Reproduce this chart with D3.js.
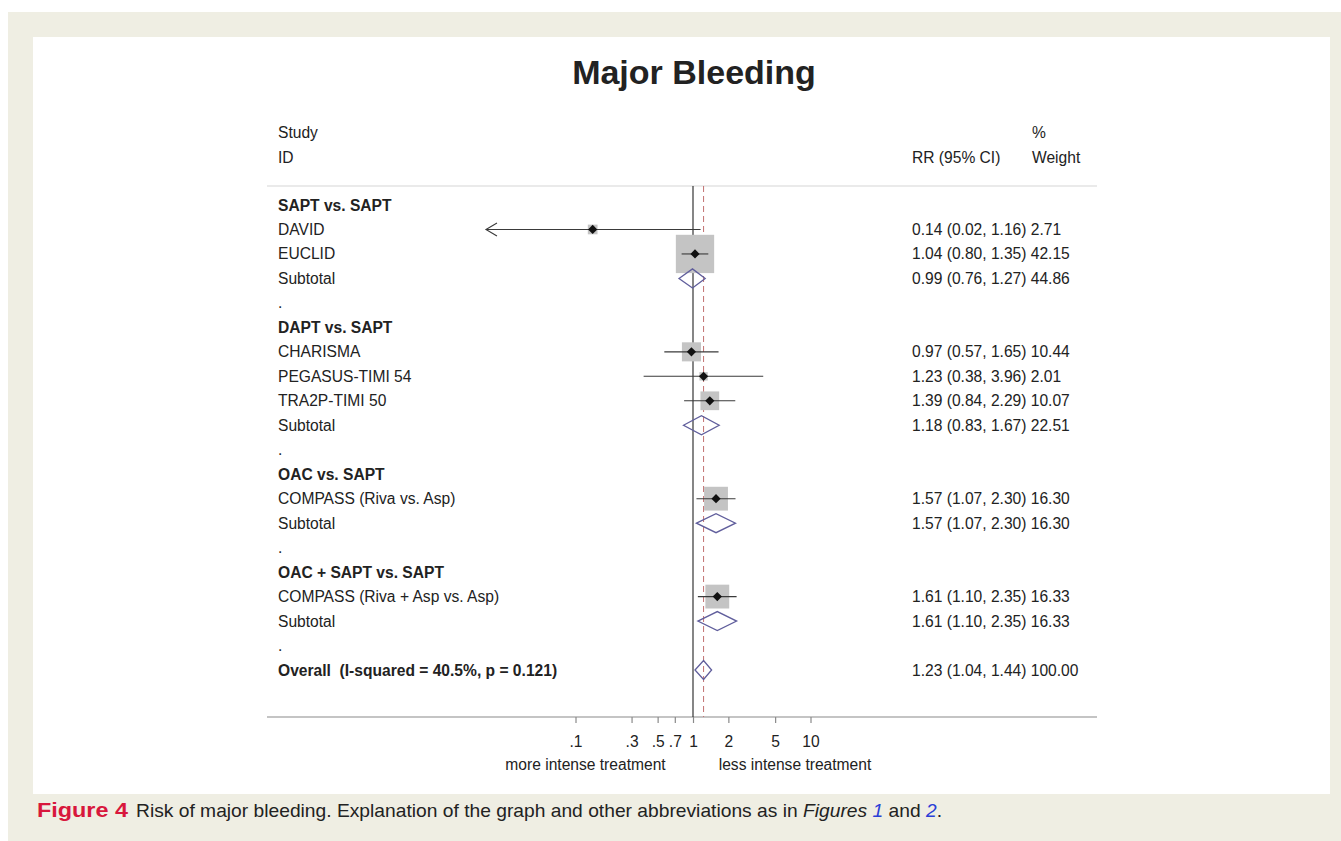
<!DOCTYPE html>
<html>
<head>
<meta charset="utf-8">
<script src="https://cdn.jsdelivr.net/npm/d3@7/dist/d3.min.js"></script>
<style>
  html, body { margin: 0; padding: 0; background: #ffffff; }
  svg { display: block; }
  text { font-family: "Liberation Sans", Arial, Helvetica, sans-serif; }
</style>
</head>
<body>
<svg id="chart" width="1341" height="841"></svg>
<script>
// ---- Data ----
const groupNames = ["SAPT vs. SAPT", "DAPT vs. SAPT", "OAC vs. SAPT", "OAC + SAPT vs. SAPT"];

const studyNames = ["DAVID", "EUCLID", "CHARISMA", "PEGASUS-TIMI 54", "TRA2P-TIMI 50",
                    "COMPASS (Riva vs. Asp)", "COMPASS (Riva + Asp vs. Asp)"];
const studyGroup = [0, 0, 1, 1, 1, 2, 3];
const studyRR    = [0.14, 1.04, 0.97, 1.23, 1.39, 1.57, 1.61];
const studyLow   = [0.02, 0.80, 0.57, 0.38, 0.84, 1.07, 1.10];
const studyHigh  = [1.16, 1.35, 1.65, 3.96, 2.29, 2.30, 2.35];
const studyWeight = [2.71, 42.15, 10.44, 2.01, 10.07, 16.30, 16.33];

const subRR     = [0.99, 1.18, 1.57, 1.61];
const subLow    = [0.76, 0.83, 1.07, 1.10];
const subHigh   = [1.27, 1.67, 2.30, 2.35];
const subWeight = [44.86, 22.51, 16.30, 16.33];

const overallLabel = "Overall  (I-squared = 40.5%, p = 0.121)";
const overallRR = 1.23, overallLow = 1.04, overallHigh = 1.44, overallWeight = 100.00;

const tickValues = [0.1, 0.3, 0.5, 0.7, 1, 2, 5, 10];
const tickLabels = [".1", ".3", ".5", ".7", "1", "2", "5", "10"];

// lower display limit of the effect axis; intervals beyond it end in an arrow
const axisFloor = 0.0173;

// ---- Build the row list ----
const rows = [];
groupNames.forEach((g, gi) => {
  rows.push({ type: "group", label: g });
  studyNames.forEach((s, i) => {
    if (studyGroup[i] === gi) {
      rows.push({ type: "study", label: s, rr: studyRR[i], lo: studyLow[i], hi: studyHigh[i], w: studyWeight[i] });
    }
  });
  rows.push({ type: "subtotal", label: "Subtotal", rr: subRR[gi], lo: subLow[gi], hi: subHigh[gi], w: subWeight[gi] });
  rows.push({ type: "spacer", label: "." });
});
rows.push({ type: "overall", label: overallLabel, rr: overallRR, lo: overallLow, hi: overallHigh, w: overallWeight });

const fmt2 = d3.format(".2f");
const ciText = d => `${fmt2(d.rr)} (${fmt2(d.lo)}, ${fmt2(d.hi)}) ${fmt2(d.w)}`;

// ---- Canvas / background ----
const svg = d3.select("#chart");
svg.append("rect").attr("x", 8).attr("y", 12).attr("width", 1333).attr("height", 829).attr("fill", "#efeee3");
svg.append("rect").attr("x", 33).attr("y", 37).attr("width", 1297).attr("height", 757).attr("fill", "#ffffff");

// ---- Scales ----
const x = d3.scaleLog().domain([0.1, 10]).range([575.5, 810.5]);
const y = d3.scaleLinear().domain([0, rows.length - 1]).range([205, 670]);

const leftEdge = 267, rightEdge = 1097;
const headerLineY = 186, axisY = 717;
const textX = 278, ciX = 912;
const fs = 15.6;

// Title
svg.append("text")
  .attr("x", 694).attr("y", 84)
  .attr("text-anchor", "middle")
  .attr("font-size", 34).attr("font-weight", "bold")
  .attr("fill", "#222")
  .text("Major Bleeding");

// Column headers
const hdr = svg.append("g").attr("font-size", fs).attr("fill", "#222");
hdr.append("text").attr("x", textX).attr("y", 137.5).text("Study");
hdr.append("text").attr("x", textX).attr("y", 162.5).text("ID");
hdr.append("text").attr("x", ciX).attr("y", 162.5).text("RR (95% CI)");
hdr.append("text").attr("x", 1032).attr("y", 137.5).text("%");
hdr.append("text").attr("x", 1032).attr("y", 162.5).text("Weight");

// Header rule and axis rule
svg.append("line").attr("x1", leftEdge).attr("x2", rightEdge).attr("y1", headerLineY).attr("y2", headerLineY)
  .attr("stroke", "#d6d6d6").attr("stroke-width", 1.2);
svg.append("line").attr("x1", leftEdge).attr("x2", rightEdge).attr("y1", axisY).attr("y2", axisY)
  .attr("stroke", "#8a8a8a").attr("stroke-width", 1.2);

// Null line (RR = 1)
svg.append("line").attr("x1", x(1)).attr("x2", x(1)).attr("y1", headerLineY).attr("y2", axisY)
  .attr("stroke", "#222").attr("stroke-width", 1.1);

// Overall estimate line
svg.append("line").attr("x1", x(overallRR)).attr("x2", x(overallRR)).attr("y1", headerLineY).attr("y2", axisY)
  .attr("stroke", "#c27272").attr("stroke-width", 1).attr("stroke-dasharray", "6,4");

// Row labels and CI text
const lab = svg.append("g").attr("font-size", fs).attr("fill", "#222");
rows.forEach((d, i) => {
  const bold = d.type === "group" || d.type === "overall";
  lab.append("text")
    .attr("x", textX).attr("y", y(i) + 5.5)
    .attr("font-weight", bold ? "bold" : "normal")
    .attr("xml:space", "preserve")
    .style("white-space", "pre")
    .text(d.label);
  if (d.rr !== undefined) {
    lab.append("text").attr("x", ciX).attr("y", y(i) + 5.5).text(ciText(d));
  }
});

// Study markers
const marks = svg.append("g");
const boxScale = 5.9;
rows.forEach((d, i) => {
  if (d.type !== "study") return;
  const cy = y(i);
  const side = boxScale * Math.sqrt(d.w);
  marks.append("rect")
    .attr("x", x(d.rr) - side / 2).attr("y", cy - side / 2)
    .attr("width", side).attr("height", side)
    .attr("fill", "#c4c4c4");
  const clipped = d.lo < axisFloor;
  const loX = x(Math.max(d.lo, axisFloor));
  const offLeft = d.lo < 0.05;   // interval extends past the drawn axis
  marks.append("line")
    .attr("x1", offLeft ? x(axisFloor) : loX).attr("x2", x(d.hi)).attr("y1", cy).attr("y2", cy)
    .attr("stroke", "#3a3a3a").attr("stroke-width", 1.1);
  if (offLeft) {
    const ax = x(axisFloor);
    marks.append("path")
      .attr("d", `M${ax + 11},${cy - 6.5}L${ax},${cy}L${ax + 11},${cy + 6.5}`)
      .attr("fill", "none").attr("stroke", "#3a3a3a").attr("stroke-width", 1.1);
  }
  const r = 4.6;
  marks.append("path")
    .attr("d", `M${x(d.rr)},${cy - r}L${x(d.rr) + r},${cy}L${x(d.rr)},${cy + r}L${x(d.rr) - r},${cy}Z`)
    .attr("fill", "#111");
});

// Pooled diamonds
rows.forEach((d, i) => {
  if (d.type !== "subtotal" && d.type !== "overall") return;
  const cy = y(i), h = 9.5;
  marks.append("path")
    .attr("d", `M${x(d.lo)},${cy}L${x(d.rr)},${cy - h}L${x(d.hi)},${cy}L${x(d.rr)},${cy + h}Z`)
    .attr("fill", "none").attr("stroke", "#605e9c").attr("stroke-width", 1.3);
});

// Axis
const axis = d3.axisBottom(x)
  .tickValues(tickValues)
  .tickFormat((v, i) => tickLabels[i])
  .tickSize(6).tickPadding(12.5);
const ag = svg.append("g").attr("transform", `translate(0,${axisY})`).call(axis);
ag.select(".domain").remove();
ag.selectAll(".tick line").attr("stroke", "#8a8a8a").attr("stroke-width", 1.2);
ag.selectAll(".tick text").attr("font-size", fs).attr("fill", "#222")
  .attr("font-family", "'Liberation Sans', Arial, sans-serif");

svg.append("text").attr("x", 585.5).attr("y", 769.5).attr("text-anchor", "middle")
  .attr("font-size", fs).attr("fill", "#222").text("more intense treatment");
svg.append("text").attr("x", 795).attr("y", 769.5).attr("text-anchor", "middle")
  .attr("font-size", fs).attr("fill", "#222").text("less intense treatment");

// Caption
const capFont = "'Open Sans', 'Noto Sans', sans-serif";
svg.append("text").attr("x", 37).attr("y", 817)
  .attr("font-family", capFont).attr("font-size", 20).attr("font-weight", "bold").attr("fill", "#d8173c")
  .attr("textLength", 91).attr("lengthAdjust", "spacingAndGlyphs")
  .text("Figure 4");
const cap = svg.append("text").attr("x", 136).attr("y", 817)
  .attr("font-family", capFont).attr("font-size", 19).attr("fill", "#222")
  .attr("textLength", 806).attr("lengthAdjust", "spacingAndGlyphs");
cap.append("tspan").text("Risk of major bleeding. Explanation of the graph and other abbreviations as in ");
cap.append("tspan").attr("font-style", "italic").text("Figures ");
cap.append("tspan").attr("font-style", "italic").attr("fill", "#2b3fd6").text("1");
cap.append("tspan").text(" and ");
cap.append("tspan").attr("font-style", "italic").attr("fill", "#2b3fd6").text("2");
cap.append("tspan").text(".");
</script>
</body>
</html>
